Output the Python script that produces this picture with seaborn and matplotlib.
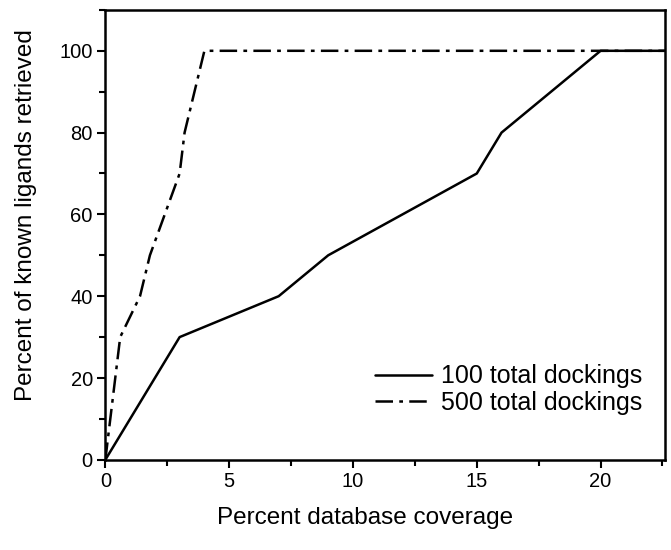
import matplotlib
matplotlib.use("Agg")
import matplotlib.pyplot as plt
import seaborn as sns
import pandas as pd
from matplotlib.ticker import MultipleLocator

# 数据
x_100 = [0, 3, 7, 9, 15, 16, 20, 22.6]
y_100 = [0, 30, 40, 50, 70, 80, 100, 100]
x_500 = [0, 0.6, 1.4, 1.8, 3.0, 3.2, 4.0, 22.6]
y_500 = [0, 30, 40, 50, 70, 80, 100, 100]
labels = ['100 total dockings', '500 total dockings']

sns.set_style('ticks', {'axes.edgecolor': 'black', 'text.color': 'black',
                        'axes.labelcolor': 'black', 'xtick.color': 'black',
                        'ytick.color': 'black'})
plt.rcParams['font.family'] = ['Liberation Sans', 'DejaVu Sans']

df = pd.concat([
    pd.DataFrame({'x': x_100, 'y': y_100, 'series': labels[0]}),
    pd.DataFrame({'x': x_500, 'y': y_500, 'series': labels[1]}),
], ignore_index=True)

fig, ax = plt.subplots(figsize=(6.71, 5.5), dpi=100)
sns.lineplot(data=df, x='x', y='y', hue='series', style='series',
             palette=['black', 'black'], dashes=[(None, None), (7, 2.5, 1.5, 2.5)],
             linewidth=1.8, sort=False, estimator=None, ax=ax)

ax.set_xlim(0, 22.6)
ax.set_ylim(0, 110)
ax.xaxis.set_major_locator(MultipleLocator(5))
ax.xaxis.set_minor_locator(MultipleLocator(2.5))
ax.yaxis.set_major_locator(MultipleLocator(20))
ax.yaxis.set_minor_locator(MultipleLocator(10))
ax.tick_params(which='major', direction='out', length=6, width=1.5, labelsize=14.5, pad=3)
ax.tick_params(which='minor', direction='out', length=4, width=1.5)
for s in ax.spines.values():
    s.set_linewidth(1.8)

ax.set_xlabel('Percent database coverage', fontsize=17.5)
ax.set_ylabel('Percent of known ligands retrieved', fontsize=17.5)
ax.xaxis.set_label_coords(0.464, -0.105)
ax.yaxis.set_label_coords(-0.122, 0.545)

leg = ax.legend(loc='lower right', frameon=False, fontsize=18,
                bbox_to_anchor=(1.0, 0.05), handlelength=2.3, handletextpad=0.35,
                labelspacing=0.1)
leg.set_title(None)

fig.subplots_adjust(left=0.157, right=0.991, top=0.982, bottom=0.164)
fig.savefig('out.png', dpi=100)
